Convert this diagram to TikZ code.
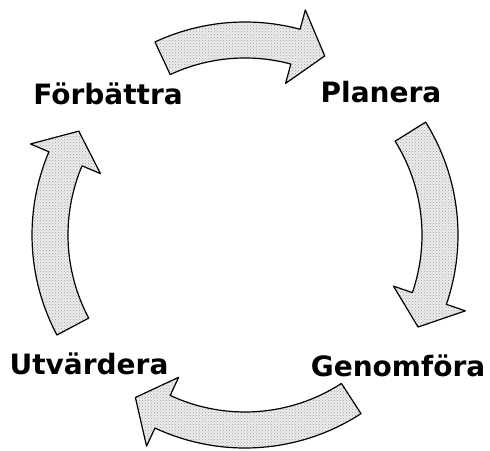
\documentclass[tikz,border=0pt]{standalone}
\usepackage{fontspec}
\setmainfont{DejaVu Sans}
\usetikzlibrary{patterns}
\newcommand{\cyclearrow}[3]{% tail angle, head base angle, tip angle
  \fill[arrowfill] (#1:213) arc[start angle=#1, end angle=#2, radius=213]
    -- (#2:233) -- (#3:196) -- (#2:157) -- (#2:177)
    arc[start angle=#2, end angle=#1, radius=177] -- cycle;
  \fill[arrowspeckle] (#1:213) arc[start angle=#1, end angle=#2, radius=213]
    -- (#2:233) -- (#3:196) -- (#2:157) -- (#2:177)
    arc[start angle=#2, end angle=#1, radius=177] -- cycle;
  \draw[arrowline] (#1:213) arc[start angle=#1, end angle=#2, radius=213]
    -- (#2:233) -- (#3:196) -- (#2:157) -- (#2:177)
    arc[start angle=#2, end angle=#1, radius=177] -- cycle;
}
\begin{document}
\begin{tikzpicture}[x=1pt,y=1pt,
  arrowfill/.style={fill=gray!14},
  arrowspeckle/.style={pattern=crosshatch dots, pattern color=gray!75},
  arrowline/.style={draw=black, line width=1.2pt, line join=round},
  label/.style={font=\bfseries\fontsize{28}{34}\selectfont, anchor=base, inner sep=0pt}]
\useasboundingbox (0,0) rectangle (490,450);
\begin{scope}[shift={(245,215)}]
  \cyclearrow{115}{75}{66}
  \cyclearrow{32}{-19}{-28}
  \cyclearrow{-57}{-115}{-124}
  \cyclearrow{208}{157}{148}
\end{scope}
\node[label] (forb) at (108,345) {Förbättra};
\node[label] (plan) at (381,347) {Planera};
\node[label] (utv) at (89,75) {Utvärdera};
\node[label] (gen) at (398,73) {Genomföra};
\end{tikzpicture}
\end{document}
